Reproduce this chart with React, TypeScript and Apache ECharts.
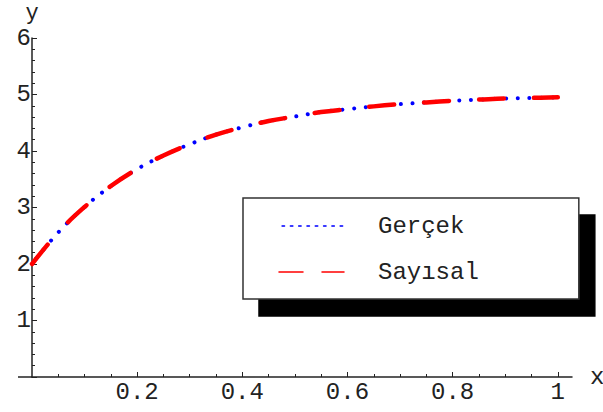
import React, { useEffect, useRef } from "react";
import * as echarts from "echarts";

// x positions where the curve was read (step 0.05)
const xValues = [0, 0.05, 0.1, 0.15, 0.2, 0.25, 0.3, 0.35, 0.4, 0.45, 0.5, 0.55, 0.6, 0.65, 0.7, 0.75, 0.8, 0.85, 0.9, 0.95, 1.0];
// "Gerçek" (exact) values
const gercek = [2.0, 2.56, 3.01, 3.38, 3.68, 3.92, 4.12, 4.29, 4.42, 4.53, 4.61, 4.69, 4.74, 4.79, 4.83, 4.86, 4.89, 4.91, 4.93, 4.94, 4.95];
// "Sayısal" (numerical) values (overlap the exact curve)
const sayisal = [2.0, 2.56, 3.01, 3.38, 3.68, 3.92, 4.12, 4.29, 4.42, 4.53, 4.61, 4.69, 4.74, 4.79, 4.83, 4.86, 4.89, 4.91, 4.93, 4.94, 4.95];

const xMajorTicks = [0.2, 0.4, 0.6, 0.8, 1];
const xMinorTicks = [0.05, 0.1, 0.15, 0.25, 0.3, 0.35, 0.45, 0.5, 0.55, 0.65, 0.7, 0.75, 0.85, 0.9, 0.95];
const seriesNames = ["Gerçek", "Sayısal"];

const MONO = "'Liberation Mono', 'DejaVu Sans Mono', monospace";
const INK = "#222";

export default function App() {
  const ref = useRef<HTMLDivElement>(null);
  useEffect(() => {
    if (!ref.current) return;
    const chart = echarts.init(ref.current, null, { renderer: "svg" });
    const axisLineStyle = { color: INK, width: 1.5 };
    chart.setOption({
      animation: false,
      backgroundColor: "#fff",
      grid: { left: 32, right: 31, top: 38, bottom: 35, containLabel: false, outerBoundsMode: "none" },
      // small leftward extension of the x axis line past the y axis (as in the reference)
      graphic: [
        {
          type: "line",
          shape: { x1: 18, y1: 377, x2: 32, y2: 377 },
          style: { stroke: INK, lineWidth: 1.5 },
          silent: true,
        },
      ],
      xAxis: [
        {
          type: "value",
          min: 0,
          max: 1.027,
          axisLine: { show: true, lineStyle: axisLineStyle },
          axisTick: { show: true, inside: true, length: 3, customValues: xMinorTicks, lineStyle: { color: INK, width: 1 } },
          axisLabel: { customValues: xMajorTicks, margin: 3, fontFamily: MONO, fontSize: 24, color: INK },
          splitLine: { show: false },
          name: "x",
          nameLocation: "end",
          nameGap: 18,
          nameTextStyle: { fontFamily: MONO, fontSize: 24, color: INK },
        },
        {
          type: "value",
          min: 0,
          max: 1.027,
          position: "bottom",
          axisLine: { show: false },
          axisTick: { show: true, inside: true, length: 5, customValues: xMajorTicks, lineStyle: { color: INK, width: 1 } },
          axisLabel: { show: false },
          splitLine: { show: false },
        },
      ],
      yAxis: {
        type: "value",
        min: 0,
        max: 6,
        interval: 1,
        axisLine: { show: true, lineStyle: axisLineStyle },
        axisTick: { show: true, inside: true, length: 5, lineStyle: { color: INK, width: 1 } },
        minorTick: { show: true, splitNumber: 5, length: 3, lineStyle: { color: INK, width: 1 } },
        axisLabel: {
          margin: 1,
          fontFamily: MONO,
          fontSize: 24,
          color: INK,
          formatter: (v: number) => (v === 0 ? "" : String(v)),
        },
        splitLine: { show: false },
        minorSplitLine: { show: false },
        name: "y",
        nameLocation: "end",
        nameGap: 16,
        nameTextStyle: { fontFamily: MONO, fontSize: 22, color: INK, lineHeight: 18 },
      },
      legend: {
        left: 243,
        top: 198,
        orient: "vertical",
        backgroundColor: "#fff",
        borderColor: "#333",
        borderWidth: 1.5,
        padding: [16, 100, 15, 35],
        itemGap: 22,
        itemWidth: 65,
        itemHeight: 14,
        shadowColor: "#000",
        shadowBlur: 0,
        shadowOffsetX: 16,
        shadowOffsetY: 17,
        textStyle: { fontFamily: MONO, fontSize: 24, color: INK, lineHeight: 24, padding: [0, 0, 0, 29] },
        data: [
          {
            name: seriesNames[0],
            itemStyle: { opacity: 0, color: "rgba(0,0,0,0)", borderWidth: 0 },
            lineStyle: { color: "#3a3aff", width: 2, type: [2, 6.3] },
          },
          {
            name: seriesNames[1],
            itemStyle: { opacity: 0, color: "rgba(0,0,0,0)", borderWidth: 0 },
            lineStyle: { color: "#ff0000", width: 1.5, type: [24, 19] },
          },
        ],
      },
      series: [
        {
          name: seriesNames[0],
          type: "line",
          data: xValues.map((x, i) => [x, gercek[i]]),
          smooth: 0.4,
          symbol: "none",
          z: 2,
          lineStyle: { color: "#0000ff", width: 4, type: [0.01, 11.7], cap: "round", dashOffset: 4.5 },
        },
        {
          name: seriesNames[1],
          type: "line",
          data: xValues.map((x, i) => [x, sayisal[i]]),
          smooth: 0.4,
          symbol: "none",
          z: 3,
          lineStyle: { color: "#ff0000", width: 4.5, type: [25, 30], cap: "round" },
        },
      ],
    });
    return () => chart.dispose();
  }, []);
  return (
    <div
      ref={ref}
      style={{ position: "absolute", left: 0, top: 0, width: 603, height: 412 }}
    />
  );
}
